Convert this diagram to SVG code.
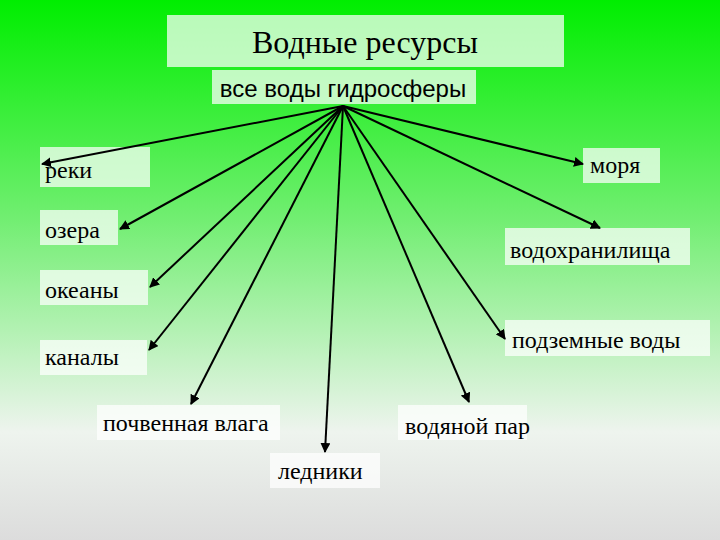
<svg xmlns="http://www.w3.org/2000/svg" width="720" height="540" viewBox="0 0 720 540">
<defs>
<linearGradient id="bg" x1="0" y1="0" x2="0" y2="1">
<stop offset="0" stop-color="#00ee00"/><stop offset="0.4" stop-color="#70ee70"/><stop offset="0.8" stop-color="#eef4ee"/><stop offset="1" stop-color="#dcdcdc"/>
</linearGradient>
<marker id="ah" viewBox="0 0 10 10" refX="9" refY="5" markerWidth="5" markerHeight="5" orient="auto"><path d="M0,0L10,5L0,10z" fill="#000"/></marker>
<style>
.b{fill:#ffffff;fill-opacity:0.72}
.t{font-family:"Liberation Serif",serif;font-size:24px;fill:#000}
.s{font-family:"Liberation Sans",sans-serif;font-size:24px;fill:#000}
.h{font-family:"Liberation Serif",serif;font-size:32px;fill:#000}
#c line{stroke:#000;stroke-width:2;marker-end:url(#ah)}
</style>
</defs>
<rect width="720" height="540" fill="url(#bg)"/>
<g id="title"><rect class="b" x="167" y="15" width="397" height="52"/><text class="h" x="365" y="53" text-anchor="middle">Водные ресурсы</text></g>
<g id="root"><rect class="b" x="212" y="70" width="264" height="34"/><text class="s" x="343" y="97" text-anchor="middle">все воды гидросферы</text></g>
<g id="n1"><rect class="b" x="40" y="147" width="110" height="40"/><text class="t" x="45" y="178">реки</text></g>
<g id="n2"><rect class="b" x="583" y="148" width="77" height="35"/><text class="t" x="590" y="173">моря</text></g>
<g id="n3"><rect class="b" x="40" y="210" width="78" height="35"/><text class="t" x="45" y="238">озера</text></g>
<g id="n4"><rect class="b" x="505" y="228" width="185" height="37"/><text class="t" x="510" y="258">водохранилища</text></g>
<g id="n5"><rect class="b" x="40" y="270" width="108" height="35"/><text class="t" x="45" y="298">океаны</text></g>
<g id="n6"><rect class="b" x="505" y="320" width="205" height="36"/><text class="t" x="512" y="348">подземные воды</text></g>
<g id="n7"><rect class="b" x="40" y="340" width="107" height="35"/><text class="t" x="45" y="365">каналы</text></g>
<g id="n8"><rect class="b" x="97" y="405" width="183" height="35"/><text class="t" x="103" y="431">почвенная влага</text></g>
<g id="n9"><rect class="b" x="398" y="405" width="129" height="35"/><text class="t" x="405" y="434">водяной пар</text></g>
<g id="n10"><rect class="b" x="270" y="453" width="110" height="35"/><text class="t" x="278" y="479">ледники</text></g>
<g id="c">
<line x1="343" y1="106" x2="42" y2="164"/>
<line x1="343" y1="106" x2="583" y2="164"/>
<line x1="343" y1="106" x2="120" y2="229"/>
<line x1="343" y1="106" x2="600" y2="228"/>
<line x1="343" y1="106" x2="150" y2="287"/>
<line x1="343" y1="106" x2="505" y2="339"/>
<line x1="343" y1="106" x2="149" y2="350"/>
<line x1="343" y1="106" x2="191" y2="404"/>
<line x1="343" y1="106" x2="469" y2="402"/>
<line x1="343" y1="106" x2="325" y2="452"/>
</g>
</svg>
